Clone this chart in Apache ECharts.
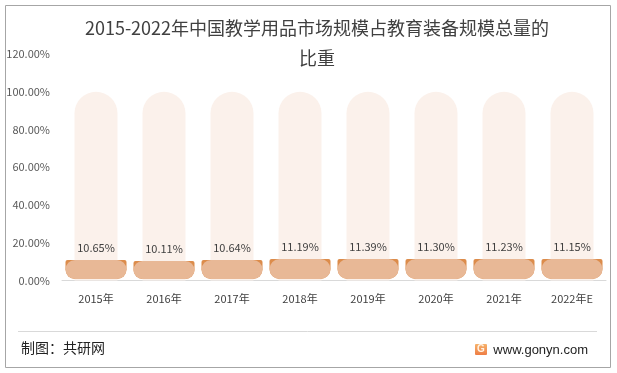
<!DOCTYPE html>
<html>
<head>
<meta charset="utf-8">
<script src="https://cdn.jsdelivr.net/npm/echarts@6/dist/echarts.min.js"></script>
<style>
html,body{margin:0;padding:0;background:#fff;}
#chart{width:617px;height:373px;}
</style>
</head>
<body>
<div id="chart"></div>
<script>
var categories = ['2015年','2016年','2017年','2018年','2019年','2020年','2021年','2022年E'];
var shareValues = [10.65, 10.11, 10.64, 11.19, 11.39, 11.30, 11.23, 11.15];
var backgroundValues = [100, 100, 100, 100, 100, 100, 100, 100];
var yTicks = [0, 20, 40, 60, 80, 100, 120];

var FONT = '"Noto Sans CJK SC", "Noto Sans", sans-serif';
var chart = echarts.init(document.getElementById('chart'), null, {renderer: 'canvas'});

var option = {
  backgroundColor: '#ffffff',
  animation: false,
  title: {
    text: '2015-2022年中国教学用品市场规模占教育装备规模总量的\n比重',
    left: 312,
    top: 8,
    textAlign: 'center',
    textStyle: {
      fontFamily: FONT,
      fontSize: 18,
      fontWeight: 'normal',
      color: '#404040',
      lineHeight: 30
    }
  },
  grid: {left: 62, right: 11, top: 54, bottom: 92.5},
  xAxis: {
    type: 'category',
    data: categories,
    axisLine: {lineStyle: {color: '#d9d9d9', width: 1}},
    axisTick: {show: false},
    axisLabel: {fontFamily: FONT, fontSize: 11, color: '#404040', margin: 13}
  },
  yAxis: {
    type: 'value',
    min: yTicks[0],
    max: yTicks[yTicks.length - 1],
    interval: 20,
    axisLine: {show: false},
    axisTick: {show: false},
    splitLine: {show: false},
    axisLabel: {
      fontFamily: FONT, fontSize: 11, color: '#595959', margin: 12,
      formatter: function (v) { return v.toFixed(2) + '%'; }
    }
  },
  series: [
    {
      type: 'bar',
      data: backgroundValues,
      barWidth: 43,
      itemStyle: {color: '#fbf1eb', borderRadius: [21.5, 21.5, 0, 0]},
      silent: true,
      z: 1
    },
    {
      type: 'custom',
      data: shareValues.map(function (v, i) { return [i, v]; }),
      encode: {x: 0, y: 1},
      z: 5,
      renderItem: function (params, api) {
        var idx = api.value(0);
        var val = api.value(1);
        var top = api.coord([idx, val]);
        var base = api.coord([idx, 0]);
        var cx = top[0];
        var y0 = Math.round(top[1]);
        var y1 = Math.round(base[1] - 2);
        var w = 61;
        var h = y1 - y0;
        var rr = h / 2;
        return {
          type: 'group',
          children: [
            {type: 'rect', shape: {x: cx - w / 2, y: y0, width: w, height: h, r: [2, 2, rr, rr]},
             style: {fill: '#dc8c4b'}},
            {type: 'rect', shape: {x: cx - w / 2, y: y0, width: w, height: h, r: rr},
             style: {fill: '#e8b896'}},
            {type: 'text', x: cx, y: y0 - 12.5,
             style: {text: val.toFixed(2) + '%', textAlign: 'center', textVerticalAlign: 'middle',
                     fill: '#404040', font: '11px ' + FONT}}
          ]
        };
      }
    }
  ],
  graphic: [
    {type: 'rect', shape: {x: 5.5, y: 5.5, width: 605, height: 362}, style: {fill: 'none', stroke: '#a6a6a6', lineWidth: 1}, z: 100},
    {type: 'line', shape: {x1: 18, y1: 331.5, x2: 597, y2: 331.5}, style: {stroke: '#d9d9d9', lineWidth: 1}},
    {type: 'text', left: 21, top: 341, style: {text: '制图：共研网', fill: '#222222', font: '14px ' + FONT}},
    {type: 'rect', shape: {x: 475, y: 344, width: 12, height: 11, r: 1},
     style: {fill: new echarts.graphic.LinearGradient(0, 0, 0, 1, [{offset: 0, color: '#f6b26b'}, {offset: 1, color: '#ee7d45'}])}},
    {type: 'text', x: 481, y: 349.5, style: {text: 'G', fill: '#fff3e6', font: 'bold 10px "Liberation Sans", sans-serif', textAlign: 'center', textVerticalAlign: 'middle'}},
    {type: 'text', x: 588, y: 350, style: {text: 'www.gonyn.com', fill: '#222222', font: '13px "Liberation Sans", sans-serif', textAlign: 'right', textVerticalAlign: 'middle'}}
  ]
};
chart.setOption(option);
</script>
</body>
</html>
